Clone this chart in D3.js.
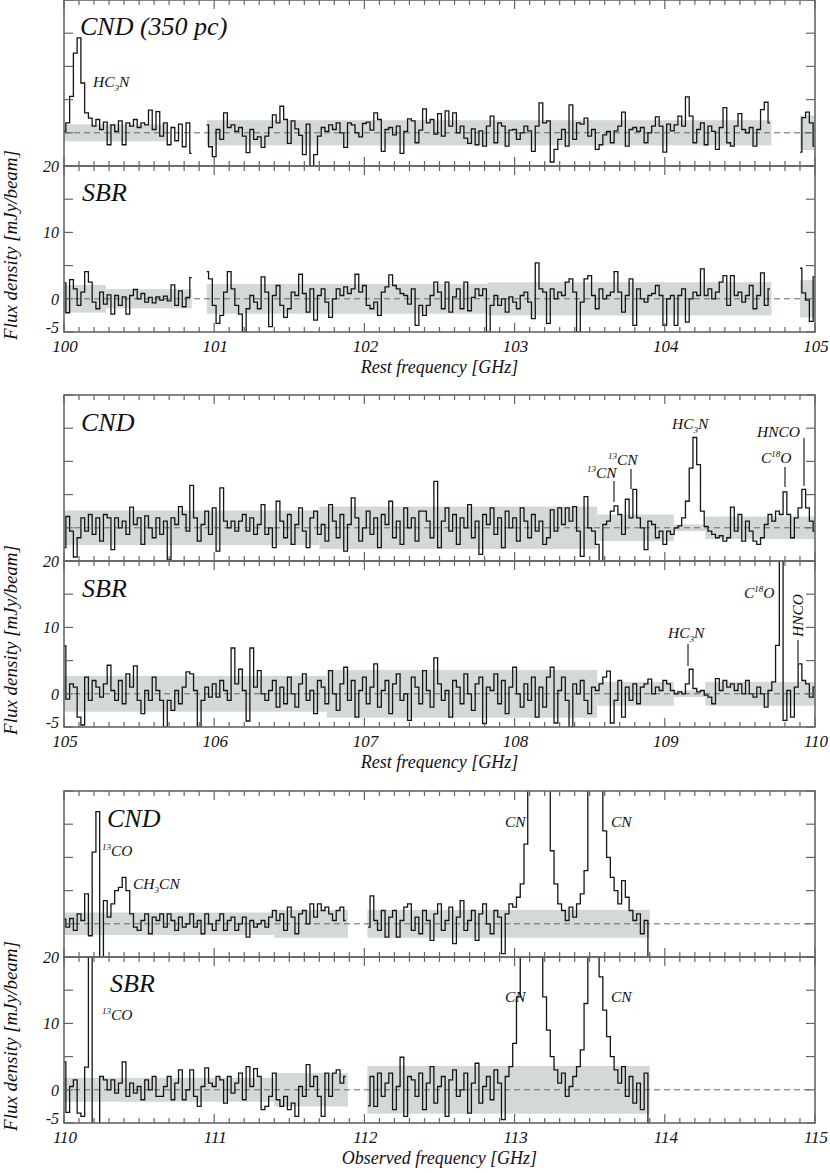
<!DOCTYPE html>
<html><head><meta charset="utf-8">
<script src="https://cdn.jsdelivr.net/npm/d3@7"></script>
<style>
body{margin:0;background:#fff}
text{font-family:"Liberation Serif","Times New Roman",serif;font-style:italic;fill:#111}
</style>
</head><body>
<svg id="chart" width="830" height="1173"></svg>
<script>
// ---------- DATA (flux density in mJy/beam, channel step 0.025 GHz) ----------
const STEP = 0.025;
const xTickMajor = [0,1,2,3,4,5];
const yTickValues = [-5,0,5,10,15,20];
const yTickLabels = [[20,"20"],[10,"10"],[0,"0"],[-5,"-5"]];

// Panel 1: 100-105 GHz rest
const g1CndA = [0.2,1.5,5.5,12.0,14.3,7.5,3.0,2.2,1.0,2.0,0.5,1.6,-1.8,1.2,0.2,1.8,-1.8,1.5,1.0,2.0,0.8,1.5,1.2,3.4,0.5,3.2,-0.5,1.5,-1.8,0.8,-1.2,1.3,-2.1,1.5,-3.1];
const g1CndB = [1.2,-2.1,-3.6,0.5,-1.0,3.0,0.8,1.2,0.2,0.8,-0.5,-3.0,0.5,-1.0,-0.6,-2.2,-0.5,0.8,2.7,1.5,4.0,2.0,-1.6,1.8,0.6,-0.4,-3.3,1.3,-5.0,-3.3,-0.5,0.8,0.2,1.2,0.5,1.5,0.0,-2.2,1.5,1.2,0.0,-0.6,1.4,1.6,0.4,3.0,2.0,-2.8,0.5,0.8,-0.3,1.0,-3.1,0.2,2.1,1.8,-1.5,0.4,3.6,1.5,2.0,-0.2,2.9,-0.5,3.3,1.0,3.0,0.0,1.0,-0.8,-1.6,0.6,-1.8,0.3,-2.0,1.0,2.5,-1.5,1.5,1.0,-2.0,0.4,0.5,-1.0,0.0,1.0,0.3,-2.8,1.0,4.5,1.5,1.8,-4.4,-2.5,-1.0,0.5,-2.0,4.2,-1.0,1.5,1.3,2.2,-0.5,0.5,-2.5,-1.8,-0.3,0.2,-1.5,0.3,1.0,3.1,-2.0,0.5,0.8,0.2,0.8,-1.5,0.0,1.0,2.4,1.0,-2.9,1.3,0.3,1.2,2.5,1.0,5.4,2.5,-1.5,0.5,1.5,-1.8,1.0,0.2,-2.5,0.8,3.8,-1.5,-2.0,1.0,2.9,0.5,0.0,0.8,-2.0,0.5,3.5,4.6,1.5];
const g1CndC = [-2.9,2.3,3.1,1.5,-2.0];
const g1SbrA = [2.4,-2.1,2.9,1.5,-1.0,1.0,4.1,2.5,-0.5,-1.5,1.0,-0.8,0.6,-2.3,0.5,-1.0,0.3,-2.3,0.5,1.4,0.0,0.8,-0.5,0.2,-0.6,0.3,-0.2,0.4,-0.3,2.1,-1.0,1.2,-1.2,0.2,3.2];
const g1SbrB = [4.1,3.0,-1.0,-3.7,-2.5,1.0,4.1,1.5,-1.0,-2.3,-5.0,-1.5,0.5,-0.5,-1.5,3.3,1.0,-4.2,0.5,2.0,-1.0,-2.8,-1.5,1.0,0.5,3.7,0.8,-2.0,1.5,-3.2,0.5,1.5,-0.5,-2.8,0.0,1.5,0.5,1.8,0.8,1.5,3.7,1.0,2.0,-1.0,-1.5,-0.5,-2.5,1.0,1.8,3.6,2.0,1.5,0.8,0.5,-0.8,1.5,-4.0,-1.0,-2.5,-1.0,0.5,2.5,1.0,-1.5,2.5,-2.0,0.3,1.5,-1.5,2.5,-1.8,0.2,1.5,0.5,1.5,-5.0,-1.0,0.5,-1.0,0.0,-2.0,0.3,-0.5,-1.5,0.5,1.0,-0.5,-3.0,5.4,1.5,1.0,-3.7,1.5,0.0,1.0,0.5,2.5,3.0,1.0,-5.0,-0.5,3.0,3.5,0.5,-1.5,1.5,0.0,0.5,1.0,4.1,1.0,-2.0,0.5,3.0,-4.0,1.5,0.0,-0.5,0.5,0.8,2.0,0.5,-4.0,0.0,0.5,-4.0,0.5,1.5,-3.5,0.0,1.0,0.5,4.5,0.5,1.5,0.0,1.0,2.5,3.5,-1.0,3.5,0.5,1.0,-0.5,0.5,2.0,-1.5,0.5,3.9,-1.0,1.5];
const g1SbrC = [4.6,0.9,-0.2,-3.4,3.3];
const g1CndBands = [[100.0,100.69,1.28],[100.95,104.71,1.9],[104.9,105.0,2.6]];
const g1SbrBands = [[100.0,100.28,2.08],[100.28,100.85,1.45],[100.95,102.82,2.25],[102.82,104.71,2.5],[104.9,105.0,2.8]];

// Panel 2: 105-110 GHz rest
const g2Cnd = [-3.0,1.7,-0.5,-4.4,-1.5,1.5,-0.5,2.0,-1.0,1.5,-2.0,2.0,1.5,-3.3,1.5,0.0,1.0,-1.0,3.1,0.5,1.5,-2.5,1.8,0.0,-1.5,1.5,-1.0,1.0,-4.8,1.5,0.5,3.2,2.0,-0.5,6.4,1.5,-2.0,0.5,2.5,-1.0,3.0,-3.5,6.0,1.0,0.0,1.0,-0.5,1.0,2.0,-0.5,1.5,-1.0,0.5,3.5,-1.0,0.0,-3.0,4.0,
 1.0,-1.5,2.0,-2.5,0.5,3.0,-0.5,-3.0,1.5,2.5,-1.0,0.5,-2.0,3.5,1.0,-1.5,2.0,-3.5,0.5,4.5,1.5,-2.0,0.0,2.5,-1.0,1.5,-3.0,2.0,0.5,4.0,-1.5,1.0,-2.5,3.0,0.0,1.5,-2.0,2.5,2.5,1.0,-1.5,7.0,-3.0,1.0,3.0,-0.5,2.0,-2.5,1.5,0.0,3.5,-1.5,1.0,-4.0,2.0,0.5,3.0,-1.0,1.5,-3.0,2.5,0.0,1.5,-2.0,3.0,1.0,-1.5,2.0,-0.5,1.0,
 -2.5,-1.5,2.7,-0.5,3.0,0.5,3.0,1.0,3.2,-0.5,-4.3,4.7,0.0,-0.5,-2.5,-5.5,0.5,1.0,2.5,3.3,2.0,-1.0,4.3,1.5,5.8,1.5,0.0,-3.3,1.0,0.5,-1.5,-0.5,-2.5,-0.5,-1.0,0.0,0.3,1.5,4.0,9.0,13.6,9.5,2.5,0.2,-0.5,-1.0,-1.5,-1.2,-2.0,-1.5,3.1,-0.5,2.0,-2.0,1.0,-0.5,-2.0,-2.5,-1.5,0.5,2.0,1.0,2.5,2.0,5.4,2.0,-1.5,1.5,3.0,5.8,3.0,1.0,-0.5];
const g2Sbr = [7.2,-0.8,1.5,1.0,-3.5,-4.7,2.5,-1.0,2.0,1.0,-0.5,1.5,4.3,0.5,-1.0,2.0,-1.5,3.0,1.0,4.2,-1.0,-3.0,0.5,-1.0,2.5,0.5,-1.0,-5.0,-1.0,-2.5,0.5,-1.5,1.0,3.3,3.0,0.5,-5.0,-1.0,1.0,-0.5,1.5,-0.5,2.0,0.5,-1.0,6.9,1.5,3.7,0.5,-4.1,6.9,1.0,3.5,0.0,-1.0,0.5,2.0,-2.0,
 1.0,-1.5,2.5,0.0,-2.0,1.5,3.0,-1.0,0.5,-3.0,2.0,1.0,-1.5,3.5,0.0,-2.5,1.5,4.0,-1.0,2.0,-3.5,0.5,2.5,-1.5,1.0,4.5,-2.0,0.5,2.0,-3.0,1.5,3.0,-1.0,0.0,-4.0,2.5,1.0,-1.5,3.5,0.5,-2.0,5.4,1.5,-1.0,0.5,-3.5,2.0,1.0,-1.5,3.0,0.0,-2.5,1.5,2.5,-4.5,1.0,0.5,3.0,-1.5,2.0,-3.0,1.0,4.0,0.0,-2.0,1.5,-1.0,2.5,-3.5,1.0,
 -2.0,2.5,4.0,-4.4,0.5,2.5,-1.0,-5.0,1.5,0.0,2.0,-1.0,-3.0,1.0,0.5,1.5,2.5,3.4,-4.4,-1.0,2.0,-3.5,1.0,-1.0,1.5,-1.5,1.0,1.5,2.2,0.0,1.0,0.5,2.0,1.5,0.5,0.0,0.3,0.0,1.5,3.7,0.8,0.3,0.5,-0.2,-0.5,-1.5,2.3,0.5,2.0,1.0,1.5,0.5,1.5,0.0,2.0,0.0,-0.5,1.0,0.0,-2.0,0.5,1.8,7.3,40,-4.0,0.5,-3.5,1.0,4.5,2.0,1.5,-0.5,1.0];
const g2CndBands = [[105.0,106.7,2.6],[106.7,108.55,3.2],[108.55,109.06,2.0],[109.06,109.27,0.5],[109.27,110.0,1.7]];
const g2SbrBands = [[105.0,106.75,2.7],[106.75,108.55,3.6],[108.55,109.06,1.8],[109.06,109.27,0.5],[109.27,110.0,1.8]];

// Panel 3: 110-115 GHz observed
const g3CndA = [0.7,-0.5,0.8,-1.0,1.5,0.5,4.5,-1.8,10.8,16.9,-7.0,3.5,1.0,3.0,5.0,5.5,7.0,5.0,1.5,-0.5,-1.0,0.5,1.5,-1.5,1.0,0.5,1.5,-0.5,1.5,0.5,-1.0,1.0,-0.5,0.0,1.5,-0.5,0.5,-1.5,1.5,0.0,-1.0,0.5,1.5,-1.0,0.5,1.0,-1.0,0.0,1.0,-2.0,0.5,-0.5,0.0,0.5,-0.5,1.0,2.0,0.5,1.5,-1.0,2.5,1.0,-1.5,1.5,2.0,0.0,3.0,1.0,3.0,2.0,2.5,1.5,0.5,2.0,2.5,0.5];
const g3CndB = [-0.5,4.2,0.5,-1.0,2.0,-2.0,1.0,2.0,-2.0,0.5,2.5,3.0,-1.0,1.0,-1.5,2.0,0.5,-2.5,1.5,3.0,-1.0,0.5,2.5,-3.0,1.0,3.5,-1.0,0.5,2.0,-2.5,1.5,3.0,0.0,-1.5,2.0,1.0,-4.5,1.5,3.0,2.5,4.0,6.0,12,30,45,50,45,35,22,11,6,3.0,2.0,0.5,2.5,1.0,3.0,4.5,8,25,45,50,35,14,10,7,5,3,6.5,4,2,0.5,1.5,-1.5,0.5,-6];
const g3SbrA = [4.2,-3.4,0.5,1.5,-3.5,-4.0,3.4,40,-8,-8,2.0,1.5,0.0,1.5,-0.5,1.0,4.2,-1.0,1.0,-0.5,0.5,-1.5,1.5,0.0,2.0,-1.0,-1.0,0.5,2.0,-1.5,1.0,3.0,-1.5,0.0,3.0,-1.0,-2.5,0.5,3.3,1.0,0.5,2.0,1.5,-2.0,2.0,-0.5,1.0,2.5,-1.5,3.5,0.5,3.2,2.0,-3.0,-2.5,-1.0,2.5,-1.5,-2.5,-1.0,-3.0,-2.0,-4.0,0.5,-1.0,3.8,0.5,2.0,-1.0,-4.0,2.5,-1.0,2.5,3.0,1.0,2.0];
const g3SbrB = [-2.4,2.0,-2.5,2.5,-1.0,1.0,2.5,-3.0,0.5,4.9,-4.0,2.0,1.5,-1.0,2.5,-3.0,1.0,3.5,-2.0,0.5,2.0,-4.0,1.5,3.0,-1.0,0.0,2.5,-3.5,1.0,4.0,-2.0,0.5,2.0,-1.5,3.0,1.0,-4.5,2.0,3.5,7,14,30,50,60,60,50,30,14,9,5,3,1.0,2.5,-1.0,0.5,2.0,3.5,6,13,30,50,40,17,12,8,5,3,1.0,3.5,-1.0,2.0,-2.0,1.0,-3.0,2.5,-5];
const g3CndBands = [[110.0,111.4,1.7],[111.4,111.89,2.1],[112.02,113.9,2.1]];
const g3SbrBands = [[110.0,111.4,1.8],[111.4,111.89,2.5],[112.02,113.9,3.6]];

// ---------- LAYOUT ----------
const L = 64, R = 815, PH = 166;
const svg = d3.select("#chart");

const groups = [
  { f0:100, top:0, title:"Rest frequency [GHz]",
    cnd:{ name:"CND (350 pc)", nx:80, ny:35, segs:[[100.0,g1CndA],[100.95,g1CndB],[104.9,g1CndC]], bands:g1CndBands,
      labels:[{x:93,y:87,parts:[["HC",0],["3",1],["N",0]]}], marks:[] },
    sbr:{ name:"SBR", nx:82, ny:201, segs:[[100.0,g1SbrA],[100.95,g1SbrB],[104.9,g1SbrC]], bands:g1SbrBands, labels:[], marks:[] } },
  { f0:105, top:395, title:"Rest frequency [GHz]",
    cnd:{ name:"CND", nx:81, ny:431, segs:[[105.0,g2Cnd]], bands:g2CndBands,
      labels:[
        {x:587,y:478,parts:[["13",-1],["CN",0]]},
        {x:608,y:465,parts:[["13",-1],["CN",0]]},
        {x:672,y:429,parts:[["HC",0],["3",1],["N",0]]},
        {x:761,y:463,parts:[["C",0],["18",-1],["O",0]]},
        {x:757,y:437,parts:[["HNCO",0]]}],
      marks:[[614,481,502],[631,469,489],[785,467,487],[804,438,486]] },
    sbr:{ name:"SBR", nx:82, ny:597, segs:[[105.0,g2Sbr]], bands:g2SbrBands,
      labels:[
        {x:744,y:598,parts:[["C",0],["18",-1],["O",0]]},
        {x:668,y:638,parts:[["HC",0],["3",1],["N",0]]},
        {x:803,y:637,rot:true,parts:[["HNCO",0]]}],
      marks:[[688,644,666],[798,640,663]] } },
  { f0:110, top:791, title:"Observed frequency [GHz]",
    cnd:{ name:"CND", nx:107, ny:827, segs:[[110.0,g3CndA],[112.025,g3CndB]], bands:g3CndBands,
      labels:[
        {x:102,y:856,parts:[["13",-1],["CO",0]]},
        {x:133,y:889,parts:[["CH",0],["3",1],["CN",0]]},
        {x:505,y:827,parts:[["CN",0]]},
        {x:611,y:827,parts:[["CN",0]]}], marks:[] },
    sbr:{ name:"SBR", nx:110, ny:992, segs:[[110.0,g3SbrA],[112.025,g3SbrB]], bands:g3SbrBands,
      labels:[
        {x:102,y:1020,parts:[["13",-1],["CO",0]]},
        {x:505,y:1002,parts:[["CN",0]]},
        {x:611,y:1002,parts:[["CN",0]]}], marks:[] } }
];

let clipId = 0;
function drawLabel(g, lab){
  const t = g.append("text").attr("font-size",15.5);
  if (lab.rot) t.attr("transform",`translate(${lab.x},${lab.y}) rotate(-90)`);
  else t.attr("x",lab.x).attr("y",lab.y);
  let shift = 0;
  lab.parts.forEach(([s,k])=>{
    const ts = t.append("tspan").text(s);
    const target = k===1 ? 3.5 : (k===-1 ? -6 : 0);
    ts.attr("dy", target - shift);
    if (k!==0) ts.attr("font-size",9);
    shift = target;
  });
}

function drawPanel(grp, panel, top, isSbr){
  const x = d3.scaleLinear().domain([grp.f0, grp.f0+5]).range([L,R]);
  const y = d3.scaleLinear().domain([-5,20]).range([top+PH, top]);
  const g = svg.append("g");
  const id = "clip"+(clipId++);
  svg.append("clipPath").attr("id",id).append("rect")
    .attr("x",L).attr("y",top).attr("width",R-L).attr("height",PH);
  const inner = g.append("g").attr("clip-path",`url(#${id})`);
  inner.selectAll("rect.band").data(panel.bands).enter().append("rect")
    .attr("x",d=>x(d[0])).attr("width",d=>x(d[1])-x(d[0]))
    .attr("y",d=>y(d[2])).attr("height",d=>y(-d[2])-y(d[2]))
    .attr("fill","#d3d9d7");
  inner.append("line").attr("x1",L).attr("x2",R).attr("y1",y(0)).attr("y2",y(0))
    .attr("stroke","#666").attr("stroke-width",1).attr("stroke-dasharray","6,4");
  const line = d3.line().x(d=>x(d[0])).y(d=>y(d[1])).curve(d3.curveStep);
  panel.segs.forEach(([start, vals])=>{
    const pts = vals.map((v,i)=>[start+i*STEP, v]);
    inner.append("path").attr("d",line(pts)).attr("fill","none")
      .attr("stroke","#151515").attr("stroke-width",1.3).attr("stroke-linejoin","miter");
  });
  g.append("rect").attr("x",L).attr("y",top).attr("width",R-L).attr("height",PH)
    .attr("fill","none").attr("stroke","#666").attr("stroke-width",1.6);
  const xt = d3.range(0,51).map(k=>({f:grp.f0+k/10, major:k%10===0}));
  xt.forEach(t=>{
    const px = x(t.f), len = t.major?9:5;
    g.append("line").attr("x1",px).attr("x2",px).attr("y1",top).attr("y2",top+len).attr("stroke","#666").attr("stroke-width",1.2);
    g.append("line").attr("x1",px).attr("x2",px).attr("y1",top+PH).attr("y2",top+PH-len).attr("stroke","#666").attr("stroke-width",1.2);
  });
  yTickValues.forEach(v=>{
    g.append("line").attr("x1",L).attr("x2",L+9).attr("y1",y(v)).attr("y2",y(v)).attr("stroke","#666").attr("stroke-width",1.2);
    g.append("line").attr("x1",R).attr("x2",R-9).attr("y1",y(v)).attr("y2",y(v)).attr("stroke","#666").attr("stroke-width",1.2);
  });
  if (isSbr){
    yTickLabels.forEach(([v,s])=>{
      g.append("text").attr("x",59).attr("y",y(v)+(v===-5?1:6)).attr("text-anchor","end")
        .attr("font-size",16).text(s);
    });
    xTickMajor.forEach(k=>{
      g.append("text").attr("x",x(grp.f0+k)+1).attr("y",top+PH+20).attr("text-anchor","middle")
        .attr("font-size",17).text(String(grp.f0+k));
    });
    g.append("text").attr("x",(L+R)/2).attr("y",top+PH+41).attr("text-anchor","middle")
      .attr("font-size",18).text(grp.title);
    g.append("text").attr("transform",`translate(17,${top+PH/2-4}) rotate(-90)`)
      .attr("text-anchor","middle").attr("font-size",19).text("Flux density [mJy/beam]");
  }
  g.append("text").attr("x",panel.nx).attr("y",panel.ny).attr("font-size",26).text(panel.name);
  panel.labels.forEach(l=>drawLabel(g,l));
  panel.marks.forEach(([mx,y1,y2])=>{
    g.append("line").attr("x1",mx).attr("x2",mx).attr("y1",y1).attr("y2",y2)
      .attr("stroke","#222").attr("stroke-width",1.2);
  });
}

groups.forEach(grp=>{
  drawPanel(grp, grp.cnd, grp.top, false);
  drawPanel(grp, grp.sbr, grp.top+PH, true);
});
</script>
</body></html>
